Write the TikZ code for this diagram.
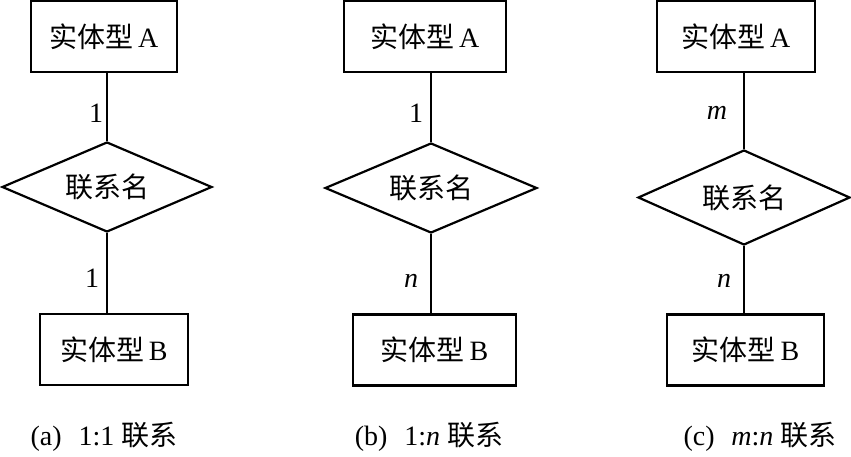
\documentclass[tikz,border=0pt]{standalone}
\usepackage{fontspec}
\setmainfont{Liberation Serif}
\newfontfamily\cjk{Noto Sans CJK SC}
\usetikzlibrary{shapes.geometric}
\tikzset{
  ent/.style={draw, line width=2.2pt, minimum height=71pt, inner sep=0pt, font=\fontsize{28}{32}\selectfont},
  rel/.style={draw, diamond, line width=2.2pt, inner sep=0pt, aspect=2.3, font=\fontsize{28}{32}\selectfont},
  card/.style={font=\fontsize{28}{32}\selectfont, inner sep=0pt},
  captext/.style={font=\fontsize{28}{32}\selectfont, inner sep=0pt},
  conn/.style={line width=2.2pt}
}
\begin{document}
\begin{tikzpicture}[x=1pt,y=-1pt]
\useasboundingbox (0,0) rectangle (851,457);
% (a)
\node[ent, minimum width=146pt] (aA) at (104,36.5) {{\cjk 实体型}\,A};
\node[rel, minimum width=210pt, minimum height=90pt] (aR) at (107,187) {\cjk 联系名};
\node[ent, minimum width=148pt] (aB) at (114,349.5) {{\cjk 实体型}\,B};
\draw[conn] (aR.north) -- (aR.north |- aA.south);
\draw[conn] (aR.south) -- (aR.south |- aB.north);
\node[card] (a1) at (96,113) {1};
\node[card] (a2) at (92,278) {1};
\node[captext] (ac) at (104,437) {(a)\hspace{0.6em}1:1 {\cjk 联系}};
% (b)
\node[ent, minimum width=162pt] (bA) at (425,36.5) {{\cjk 实体型}\,A};
\node[rel, minimum width=212pt, minimum height=90pt] (bR) at (431,188) {\cjk 联系名};
\node[ent, minimum width=163pt] (bB) at (434.5,350) {{\cjk 实体型}\,B};
\draw[conn] (bR.north) -- (bR.north |- bA.south);
\draw[conn] (bR.south) -- (bR.south |- bB.north);
\node[card] (b1) at (416,113) {1};
\node[card] (b2) at (411,281) {\textit{n}};
\node[captext] (bc) at (429,437) {(b)\hspace{0.6em}1:\textit{n} {\cjk 联系}};
% (c)
\node[ent, minimum width=158pt] (cA) at (736,36.5) {{\cjk 实体型}\,A};
\node[rel, minimum width=212pt, minimum height=95pt] (cR) at (744,197.5) {\cjk 联系名};
\node[ent, minimum width=157pt] (cB) at (745.5,350) {{\cjk 实体型}\,B};
\draw[conn] (cR.north) -- (cR.north |- cA.south);
\draw[conn] (cR.south) -- (cR.south |- cB.north);
\node[card] (c1) at (717,113) {\textit{m}};
\node[card] (c2) at (724,281) {\textit{n}};
\node[captext] (cc) at (760,437) {(c)\hspace{0.6em}\textit{m}:\textit{n} {\cjk 联系}};
\end{tikzpicture}
\end{document}
